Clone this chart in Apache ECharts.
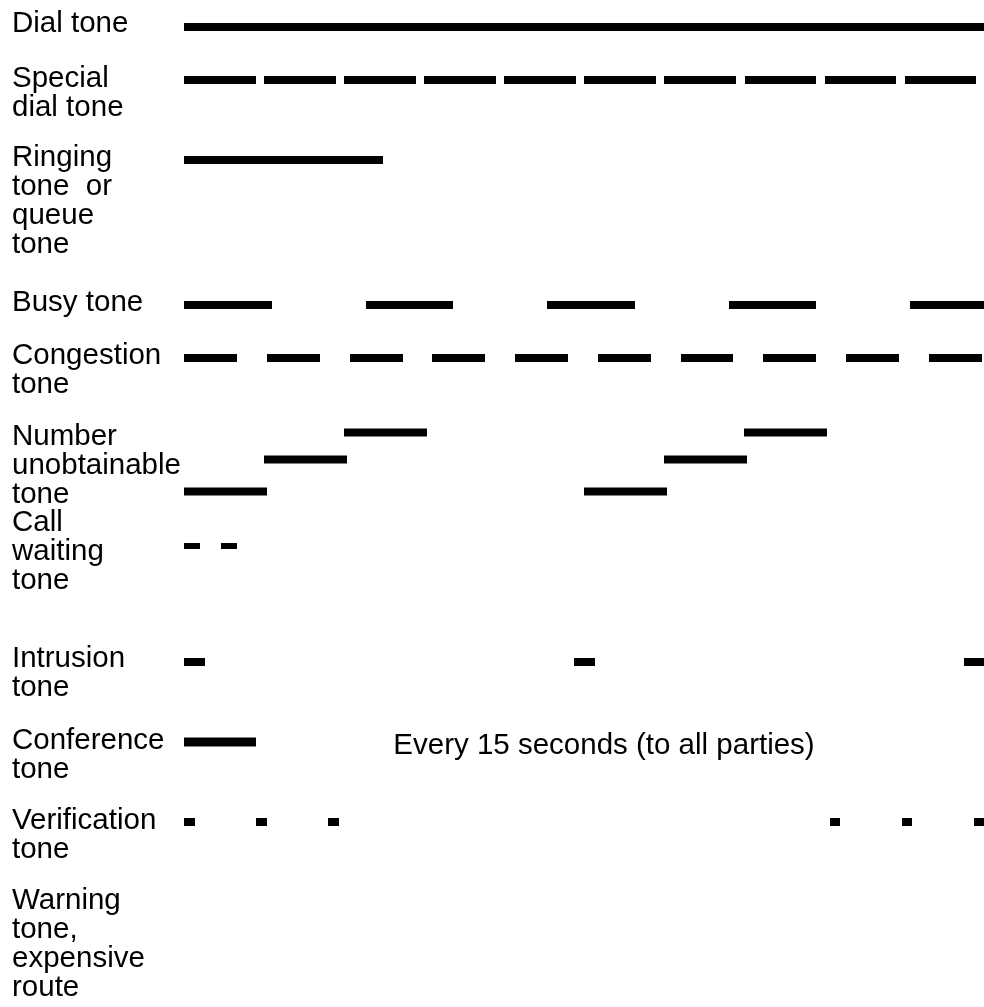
<!DOCTYPE html>
<html>
<head>
<meta charset="utf-8">
<style>
  html, body { margin: 0; padding: 0; background: #ffffff; }
  #chart { width: 984px; height: 1007px; }
</style>
<script src="https://cdn.jsdelivr.net/npm/echarts@6/dist/echarts.min.js"></script>
</head>
<body>
<div id="chart"></div>
<script>
// ---------- DATA (times in ms) ----------
const rowLabels = [
  'Dial tone',
  'Special\ndial tone',
  'Ringing\ntone  or\nqueue\ntone',
  'Busy tone',
  'Congestion\ntone',
  'Number\nunobtainable\ntone',
  'Call\nwaiting\ntone',
  'Intrusion\ntone',
  'Conference\ntone',
  'Verification\ntone',
  'Warning\ntone,\nexpensive\nroute'
];

// [start, end]
const dialTone = [[0, 4000]];
const specialDialTone = [
  [0, 360], [400, 760], [800, 1160], [1200, 1560], [1600, 1960],
  [2000, 2360], [2400, 2760], [2805, 3160], [3205, 3560], [3605, 3960]
];
const ringingTone = [[0, 995]];
const busyTone = [[0, 440], [910, 1345], [1815, 2255], [2725, 3160], [3630, 4000]];
const congestionTone = [
  [0, 265], [415, 680], [830, 1095], [1240, 1505], [1655, 1920],
  [2070, 2335], [2485, 2745], [2895, 3160], [3310, 3575], [3725, 3990]
];
// [start, end, pitchStep] (0 = lowest, 2 = highest)
const numberUnobtainableTone = [
  [0, 415, 0], [400, 815, 1], [800, 1215, 2],
  [2000, 2415, 0], [2400, 2815, 1], [2800, 3215, 2]
];
const callWaitingTone = [[0, 80], [185, 265]];
const intrusionTone = [[0, 105], [1950, 2055], [3900, 4000]];
const conferenceTone = [[0, 360]];
const verificationTone = [[0, 55], [360, 415], [720, 775], [3230, 3280], [3590, 3640], [3950, 4000]];
const warningTone = [];

const annotationText = 'Every 15 seconds (to all parties)';
const annotationTime = 2100; // ms, centre of the note
const annotationRow = 8;     // conference row

const timeMax = 4000;

// ---------- LAYOUT (vertical placement of rows) ----------
const rowBarLevel   = [27, 80, 160, 305, 358, null, 546, 662, 742, 822, null];
const pitchLevel    = [491.5, 459.5, 432.5];
const rowLabelLevel = [23.5, 78.5, 157.5, 302.5, 355.5, 436.5, 522.5, 658.5, 740.5, 820.5, 900.5];
const annotationLevel = 746;
const barThickness  = [8, 8, 8, 8, 8, 8, 6, 8, 9, 8, 8];

const FONT = '"Liberation Sans", Arial, Helvetica, sans-serif';
const FONT_SIZE = 29.5;
const LINE_H = 29.2;

// ---------- BUILD ----------
const toneSets = [dialTone, specialDialTone, ringingTone, busyTone, congestionTone,
  numberUnobtainableTone, callWaitingTone, intrusionTone, conferenceTone,
  verificationTone, warningTone];

const barData = [];
toneSets.forEach(function (set, r) {
  set.forEach(function (seg) {
    const lvl = seg.length > 2 ? pitchLevel[seg[2]] : rowBarLevel[r];
    barData.push([seg[0], seg[1], lvl, barThickness[r]]);
  });
});

const labelData = rowLabels.map(function (t, i) { return [0, rowLabelLevel[i], i]; });

const chart = echarts.init(document.getElementById('chart'), null, { renderer: 'canvas' });

chart.setOption({
  animation: false,
  backgroundColor: '#ffffff',
  grid: { left: 184, right: 0, top: 0, bottom: 0, containLabel: false },
  xAxis: { type: 'value', min: 0, max: timeMax, show: false },
  yAxis: { type: 'value', min: 0, max: 1007, inverse: true, show: false },
  series: [
    {
      type: 'custom',
      name: 'tones',
      data: barData,
      clip: true,
      renderItem: function (params, api) {
        const y = api.value(2);
        const h = api.value(3);
        const p0 = api.coord([api.value(0), y]);
        const p1 = api.coord([api.value(1), y]);
        const rect = echarts.graphic.clipRectByRect(
          { x: p0[0], y: p0[1] - h / 2, width: p1[0] - p0[0], height: h },
          { x: params.coordSys.x, y: params.coordSys.y, width: params.coordSys.width, height: params.coordSys.height }
        );
        return rect && { type: 'rect', shape: rect, style: { fill: '#000000' } };
      }
    },
    {
      type: 'custom',
      name: 'labels',
      data: labelData,
      clip: false,
      silent: true,
      renderItem: function (params, api) {
        const p = api.coord([0, api.value(1)]);
        const idx = api.value(2);
        return {
          type: 'text',
          x: 12,
          y: p[1] - LINE_H / 2,
          style: {
            text: rowLabels[idx],
            font: FONT_SIZE + 'px ' + FONT,
            fill: '#000000',
            align: 'left',
            verticalAlign: 'top',
            lineHeight: LINE_H
          }
        };
      }
    },
    {
      type: 'custom',
      name: 'note',
      data: [[annotationTime, annotationLevel]],
      clip: false,
      silent: true,
      renderItem: function (params, api) {
        const p = api.coord([api.value(0), api.value(1)]);
        return {
          type: 'text',
          x: p[0],
          y: p[1],
          style: {
            text: annotationText,
            font: FONT_SIZE + 'px ' + FONT,
            fill: '#000000',
            align: 'center',
            verticalAlign: 'middle'
          }
        };
      }
    }
  ]
});
</script>
</body>
</html>
